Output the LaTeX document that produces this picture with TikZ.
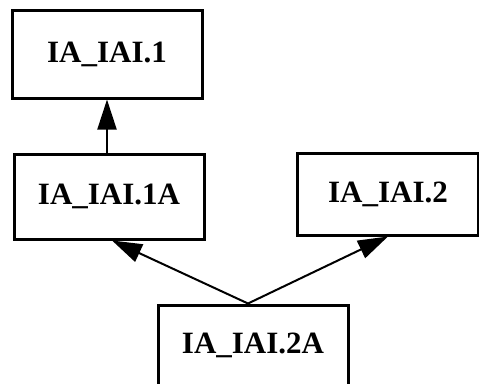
\documentclass[tikz,border=0pt]{standalone}
\usepackage{fontspec}
\setmainfont{Liberation Serif}
\usetikzlibrary{arrows.meta}
\begin{document}
\begin{tikzpicture}[x=1pt,y=-1pt,
  box/.style={draw=black,line width=3pt,fill=white,inner sep=0pt,
    font=\fontsize{31}{36}\selectfont\bfseries},
  link/.style={line width=2pt,-{Triangle[length=30pt,width=19pt]}}]
  \useasboundingbox (0,0) rectangle (479,383);
  \clip (0,0) rectangle (479,383);
  % components
  \node[box,minimum width=190pt,minimum height=88pt] (top) at (107,54) {IA\_IAI.1};
  \node[box,minimum width=190pt,minimum height=85pt] (oneA) at (109,196.5) {IA\_IAI.1A};
  \node[box,minimum width=181pt,minimum height=82pt] (two) at (388,194) {IA\_IAI.2};
  \node[box,minimum width=190pt,minimum height=80pt] (twoA) at (253,345) {IA\_IAI.2A};
  % dependencies
  \draw[link] (oneA.north -| top.south) -- (top.south);
  \draw[link] ([xshift=-5pt]twoA.north) -- ([xshift=3pt]oneA.south);
  \draw[link] ([xshift=-5pt]twoA.north) -- (two.south);
\end{tikzpicture}
\end{document}
